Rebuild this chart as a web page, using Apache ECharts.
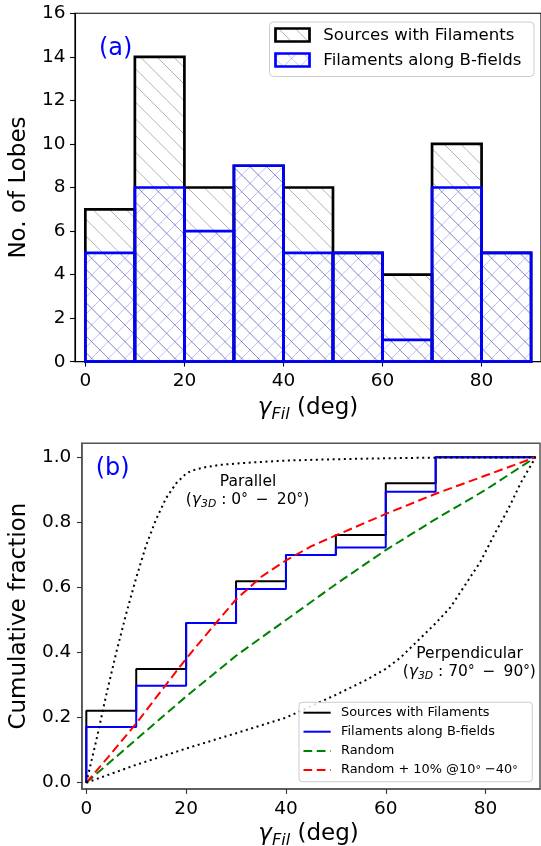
<!DOCTYPE html>
<html>
<head>
<meta charset="utf-8">
<script src="https://cdn.jsdelivr.net/npm/echarts@6/dist/echarts.min.js"></script>
<style>
  html, body { margin: 0; padding: 0; background: #fff; }
  #chart { width: 541px; height: 846px; }
</style>
</head>
<body>
<div id="chart"></div>
<script>
// ---- (a) histogram of filament angles ----
const binEdges = [0, 10, 20, 30, 40, 50, 60, 70, 80, 90];
const lobesAll = [7, 14, 8, 9, 8, 5, 4, 10, 5];      // Sources with Filaments
const lobesAlongB = [5, 8, 6, 9, 5, 5, 1, 8, 5];     // Filaments along B-fields
const histTicks = [0, 20, 40, 60, 80];

// ---- (b) cumulative fractions ----
const stepEdges = [0, 10, 20, 30, 40, 50, 60, 70];
const cumAll = [0.221, 0.349, 0.491, 0.619, 0.700, 0.761, 0.920, 1.0];
const cumAlongB = [0.171, 0.298, 0.491, 0.595, 0.700, 0.723, 0.894, 1.0];
const stepEnd = 90;

const randomX = [0, 10, 20, 30, 40, 50, 60, 70, 80, 90];
const randomY = [0, 0.133, 0.265, 0.39, 0.50, 0.61, 0.715, 0.81, 0.90, 1.0];
const excessX = [0, 5, 10, 15, 20, 25, 30, 35, 40, 45, 50, 60, 70, 80, 90];
const excessY = [0, 0.09, 0.182, 0.282, 0.381, 0.473, 0.563, 0.632, 0.683, 0.726, 0.760, 0.826, 0.888, 0.944, 1.0];
const parallelX = [0, 2, 4, 6, 8, 10, 12, 14, 16, 18, 20, 21, 22, 24, 27, 32, 40, 50, 60, 70, 90];
const parallelY = [0, 0.13, 0.27, 0.40, 0.52, 0.63, 0.73, 0.81, 0.875, 0.92, 0.95, 0.958, 0.963, 0.970, 0.977, 0.983, 0.99, 0.994, 0.997, 0.999, 1.0];
const perpX = [0, 10, 20, 30, 40, 45, 50, 56, 60, 63, 66, 70, 73, 76, 79, 82, 84.5, 87, 90];
const perpY = [0, 0.055, 0.105, 0.152, 0.20, 0.235, 0.27, 0.315, 0.35, 0.385, 0.43, 0.49, 0.54, 0.61, 0.68, 0.77, 0.84, 0.92, 1.0];
const fracTicks = [0, 0.2, 0.4, 0.6, 0.8, 1.0];

const FONT = 'DejaVu Sans';

// hatch tiles: '\\' for the full sample, 'x' for the B-field subset
function hatchTile(color, dirs) {
  const s = 50, step = s / 3;
  const c = document.createElement('canvas');
  c.width = s; c.height = s;
  const g = c.getContext('2d');
  g.strokeStyle = color;
  g.lineWidth = 1;
  dirs.forEach(function (d) {
    for (let k = -3; k <= 3; k++) {
      g.beginPath();
      if (d === '\\') { g.moveTo(k * step, 0); g.lineTo(k * step + s, s); }
      else { g.moveTo(k * step, s); g.lineTo(k * step + s, 0); }
      g.stroke();
    }
  });
  return c;
}
const hatchAll = { image: hatchTile('rgba(0,0,0,0.3)', ['\\']), repeat: 'repeat' };
const hatchB = { image: hatchTile('rgba(60,60,255,0.33)', ['\\', '/']), repeat: 'repeat' };

function barRenderer(fill, stroke) {
  return function (params, api) {
    const p0 = api.coord([api.value(0), api.value(2)]);
    const p1 = api.coord([api.value(1), 0]);
    return {
      type: 'rect',
      shape: { x: p0[0], y: p0[1], width: p1[0] - p0[0], height: p1[1] - p0[1] },
      style: { fill: fill, stroke: stroke, lineWidth: 2.7 }
    };
  };
}
const binData = vals => vals.map((v, i) => [binEdges[i], binEdges[i + 1], v]);
const stepData = cum => [[0, 0]].concat(stepEdges.map((x, i) => [x, cum[i]]), [[stepEnd, cum[cum.length - 1]]]);
const pairs = (xs, ys) => xs.map((x, i) => [x, ys[i]]);

const tickLabel = { fontFamily: FONT, fontSize: 18.5, color: '#000' };

const chart = echarts.init(document.getElementById('chart'), null, { renderer: 'canvas' });

const mathRich = function (size) {
  return {
    t: { fontFamily: FONT, fontSize: size, lineHeight: size * 1.3, fill: '#000' },
    g: { fontFamily: FONT, fontStyle: 'italic', fontSize: size, lineHeight: size * 1.3, fill: '#000' },
    s: { fontFamily: FONT, fontStyle: 'italic', fontSize: size * 0.7, fill: '#000', verticalAlign: 'bottom' },
    d: { fontFamily: FONT, fontSize: size * 0.85, fill: '#000' }
  };
};

chart.setOption({
  animation: false,
  backgroundColor: '#fff',
  grid: [
    { left: 74.5, top: 13.3, width: 468.3, height: 348.4, show: true, borderColor: '#000', borderWidth: 1.1, backgroundColor: 'transparent' },
    { left: 77.3, top: 443.3, width: 462.7, height: 345.7, show: true, borderColor: '#555', borderWidth: 1.5, backgroundColor: 'transparent' }
  ],
  xAxis: [
    {
      gridIndex: 0, type: 'value', min: -2.1, max: 92,
      axisLine: { show: true, onZero: false, lineStyle: { color: '#000', width: 1.1 } },
      axisTick: { show: true, length: 4.9, customValues: histTicks, lineStyle: { color: '#000', width: 1.1 } },
      axisLabel: Object.assign({ margin: 10, customValues: histTicks }, tickLabel),
      splitLine: { show: false }
    },
    {
      gridIndex: 1, type: 'value', min: -0.9, max: 90.9,
      axisLine: { show: true, onZero: false, lineStyle: { color: '#555', width: 1.5 } },
      axisTick: { show: true, length: 4.9, customValues: histTicks, lineStyle: { color: '#333', width: 1.1 } },
      axisLabel: Object.assign({ margin: 10.5, customValues: histTicks }, tickLabel),
      splitLine: { show: false }
    }
  ],
  yAxis: [
    {
      gridIndex: 0, type: 'value', min: 0, max: 16, interval: 2,
      name: 'No. of Lobes', nameLocation: 'middle', nameGap: 40, nameRotate: 90,
      nameTextStyle: { fontFamily: FONT, fontSize: 23, color: '#000' },
      axisLine: { show: true, onZero: false, lineStyle: { color: '#000', width: 1.1 } },
      axisTick: { show: true, length: 4.9, lineStyle: { color: '#000', width: 1.1 } },
      axisLabel: Object.assign({ margin: 9.5 }, tickLabel),
      splitLine: { show: false }
    },
    {
      gridIndex: 1, type: 'value', min: -0.0194, max: 1.043,
      name: 'Cumulative fraction', nameLocation: 'middle', nameGap: 47, nameRotate: 90,
      nameTextStyle: { fontFamily: FONT, fontSize: 23, color: '#000' },
      axisLine: { show: true, onZero: false, lineStyle: { color: '#555', width: 1.5 } },
      axisTick: { show: true, length: 4.9, customValues: fracTicks, lineStyle: { color: '#333', width: 1.1 } },
      axisLabel: Object.assign({ margin: 10.5, customValues: fracTicks, formatter: v => v.toFixed(1) }, tickLabel),
      splitLine: { show: false }
    }
  ],
  series: [
    {
      name: 'Sources with Filaments', type: 'custom', xAxisIndex: 0, yAxisIndex: 0,
      data: binData(lobesAll), encode: { x: [0, 1], y: 2 },
      renderItem: barRenderer(hatchAll, '#000'), clip: false, silent: true
    },
    {
      name: 'Filaments along B-fields', type: 'custom', xAxisIndex: 0, yAxisIndex: 0,
      data: binData(lobesAlongB), encode: { x: [0, 1], y: 2 },
      renderItem: barRenderer(hatchB, '#0000ff'), clip: false, silent: true
    },
    {
      name: 'Sources with Filaments (cum)', type: 'line', xAxisIndex: 1, yAxisIndex: 1,
      data: stepData(cumAll), step: 'end', symbol: 'none', silent: true,
      lineStyle: { color: '#000', width: 2 }
    },
    {
      name: 'Filaments along B-fields (cum)', type: 'line', xAxisIndex: 1, yAxisIndex: 1,
      data: stepData(cumAlongB), step: 'end', symbol: 'none', silent: true,
      lineStyle: { color: '#0000ff', width: 2 }
    },
    {
      name: 'Random', type: 'line', xAxisIndex: 1, yAxisIndex: 1,
      data: pairs(randomX, randomY), symbol: 'none', silent: true,
      lineStyle: { color: '#008000', width: 2, type: [9, 4.5], cap: 'butt' }
    },
    {
      name: 'Random + 10% @10°-40°', type: 'line', xAxisIndex: 1, yAxisIndex: 1,
      data: pairs(excessX, excessY), symbol: 'none', silent: true,
      lineStyle: { color: '#ff0000', width: 2, type: [9, 4.5], cap: 'butt' }
    },
    {
      name: 'Parallel', type: 'line', xAxisIndex: 1, yAxisIndex: 1,
      data: pairs(parallelX, parallelY), symbol: 'none', silent: true,
      lineStyle: { color: '#000', width: 2, type: [2, 3.6], cap: 'butt' }
    },
    {
      name: 'Perpendicular', type: 'line', xAxisIndex: 1, yAxisIndex: 1,
      data: pairs(perpX, perpY), symbol: 'none', silent: true,
      lineStyle: { color: '#000', width: 2, type: [2, 3.6], cap: 'butt' }
    }
  ],
  graphic: [
    // panel tags
    { type: 'text', z: 100, x: 99, y: 48.3, style: { text: '(a)', font: '24px "DejaVu Sans"', fill: '#0000ff', verticalAlign: 'middle' } },
    { type: 'text', z: 100, x: 95.7, y: 469, style: { text: '(b)', font: '24px "DejaVu Sans"', fill: '#0000ff', verticalAlign: 'middle' } },

    // x-axis titles
    { type: 'text', z: 100, x: 308, y: 408, style: { text: '{g|γ}{s|Fil}{t| (deg)}', align: 'center', verticalAlign: 'middle', rich: mathRich(23) } },
    { type: 'text', z: 100, x: 308.5, y: 834, style: { text: '{g|γ}{s|Fil}{t| (deg)}', align: 'center', verticalAlign: 'middle', rich: mathRich(23) } },

    // curve annotations
    { type: 'text', z: 100, x: 248, y: 481.7, style: { text: 'Parallel', font: '15.5px "DejaVu Sans"', fill: '#000', align: 'center', verticalAlign: 'middle' } },
    { type: 'text', z: 100, x: 247.5, y: 500, style: { text: '{t|(}{g|γ}{s|3D}{t| : 0}{d|°}{t| \u2009−\u2009 20}{d|°}{t|)}', align: 'center', verticalAlign: 'middle', rich: mathRich(15.5) } },
    { type: 'text', z: 100, x: 469.6, y: 654, style: { text: 'Perpendicular', font: '15.5px "DejaVu Sans"', fill: '#000', align: 'center', verticalAlign: 'middle' } },
    { type: 'text', z: 100, x: 469.3, y: 672, style: { text: '{t|(}{g|γ}{s|3D}{t| : 70}{d|°}{t| \u2009−\u2009 90}{d|°}{t|)}', align: 'center', verticalAlign: 'middle', rich: mathRich(15.5) } },

    // legend, panel (a)
    { type: 'rect', z: 100, shape: { x: 269.5, y: 22, width: 264.5, height: 54.5, r: 4 }, style: { fill: 'rgba(255,255,255,0.85)', stroke: '#cccccc', lineWidth: 1 } },
    { type: 'rect', z: 101, shape: { x: 275.5, y: 28.5, width: 34, height: 13 }, style: { fill: hatchAll, stroke: '#000', lineWidth: 2.7 } },
    { type: 'text', z: 101, x: 323.3, y: 35.5, style: { text: 'Sources with Filaments', font: '16.6px "DejaVu Sans"', fill: '#000', verticalAlign: 'middle' } },
    { type: 'rect', z: 101, shape: { x: 275.5, y: 53.5, width: 34, height: 13 }, style: { fill: hatchB, stroke: '#0000ff', lineWidth: 2.7 } },
    { type: 'text', z: 101, x: 323.3, y: 60.5, style: { text: 'Filaments along B-fields', font: '16.6px "DejaVu Sans"', fill: '#000', verticalAlign: 'middle' } },

    // legend, panel (b)
    { type: 'rect', z: 100, shape: { x: 299, y: 702.3, width: 233.3, height: 79.4, r: 3 }, style: { fill: 'rgba(255,255,255,0.85)', stroke: '#cccccc', lineWidth: 1 } },
    { type: 'line', z: 101, shape: { x1: 303.5, y1: 712.7, x2: 330.7, y2: 712.7 }, style: { stroke: '#000', lineWidth: 2 } },
    { type: 'text', z: 101, x: 341, y: 712.7, style: { text: 'Sources with Filaments', font: '12.9px "DejaVu Sans"', fill: '#000', verticalAlign: 'middle' } },
    { type: 'line', z: 101, shape: { x1: 303.5, y1: 731.7, x2: 330.7, y2: 731.7 }, style: { stroke: '#0000ff', lineWidth: 2 } },
    { type: 'text', z: 101, x: 341, y: 731.7, style: { text: 'Filaments along B-fields', font: '12.9px "DejaVu Sans"', fill: '#000', verticalAlign: 'middle' } },
    { type: 'line', z: 101, shape: { x1: 303.5, y1: 751, x2: 330.7, y2: 751 }, style: { stroke: '#008000', lineWidth: 2, lineDash: [8.7, 4.6] } },
    { type: 'text', z: 101, x: 341, y: 751, style: { text: 'Random', font: '12.9px "DejaVu Sans"', fill: '#000', verticalAlign: 'middle' } },
    { type: 'line', z: 101, shape: { x1: 303.5, y1: 770, x2: 330.7, y2: 770 }, style: { stroke: '#ff0000', lineWidth: 2, lineDash: [8.7, 4.6] } },
    { type: 'text', z: 101, x: 341, y: 770, style: { text: '{t|Random + 10% @10}{d|°}{t| −40}{d|°}', verticalAlign: 'middle', rich: mathRich(12.9) } }
  ]
});
</script>
</body>
</html>
